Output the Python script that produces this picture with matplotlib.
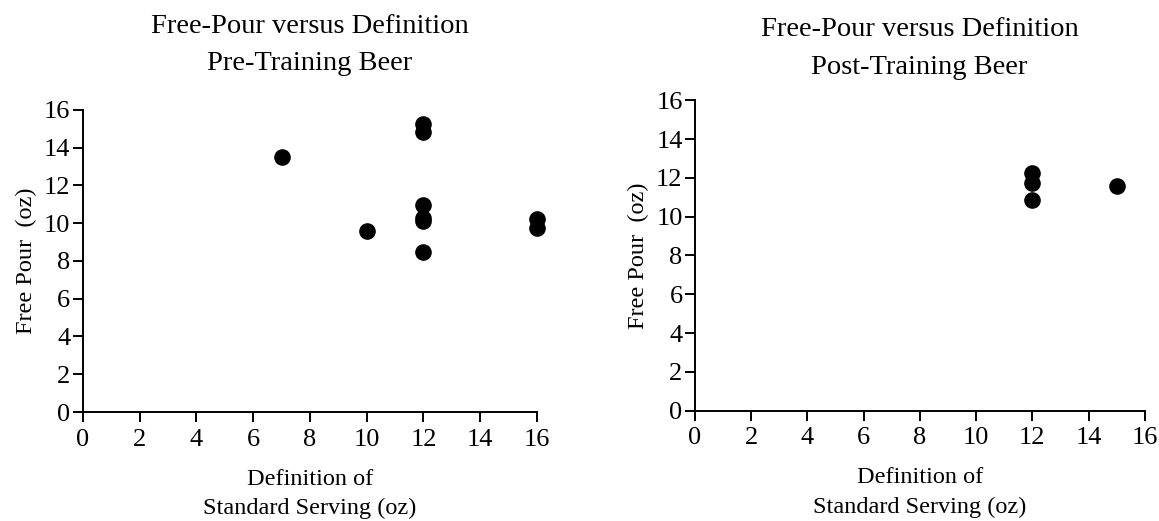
import matplotlib
matplotlib.use("Agg")
import matplotlib.pyplot as plt

plt.rcParams['font.family'] = ['Liberation Serif', 'DejaVu Serif']

# pre-training beer
pre_x = [7, 10, 12, 12, 12, 12, 12, 12, 16, 16]
pre_y = [13.5, 9.6, 15.25, 14.85, 10.97, 10.27, 10.09, 8.47, 10.23, 9.72]

# post-training beer
post_x = [12, 12, 12, 15]
post_y = [12.27, 11.74, 10.88, 11.6]

x_ticks_pre = [0, 2, 4, 6, 8, 10, 12, 14, 16]
x_ticks_post = [0, 2, 4, 6, 8, 10, 12, 14, 16]
y_ticks = [0, 2, 4, 6, 8, 10, 12, 14, 16]

fig = plt.figure(figsize=(11.59, 5.21), dpi=100)
ax1 = fig.add_axes([0.0716, 0.2092, 0.3917, 0.580])
ax2 = fig.add_axes([0.5997, 0.2117, 0.3880, 0.596])


def style(ax, xt):
    for s in ['top', 'right']:
        ax.spines[s].set_visible(False)
    for s in ['left', 'bottom']:
        ax.spines[s].set_linewidth(1.4)
        ax.spines[s].set_color('black')
    ax.set_xlim(0, 16)
    ax.set_ylim(0, 16)
    ax.set_xticks(xt)
    ax.set_yticks(y_ticks)
    ax.tick_params(direction='out', length=7.5, width=1.4, labelsize=19)
    ax.tick_params(axis='x', pad=4.5)
    ax.tick_params(axis='y', pad=1.5)
    ax.set_xlabel('Definition of\nStandard Serving (oz)', fontsize=17.5, labelpad=13, linespacing=1.5)
    ax.set_ylabel('Free Pour  (oz)', fontsize=17.5, labelpad=5)


ax1.scatter(pre_x, pre_y, s=120, color='black', zorder=3, clip_on=False)
ax2.scatter(post_x, post_y, s=120, color='black', zorder=3, clip_on=False)
style(ax1, x_ticks_pre)
style(ax2, x_ticks_post)

fig.text(0.2675, 0.914, 'Free-Pour versus Definition\nPre-Training Beer', ha='center', va='center',
         fontsize=20.5, linespacing=1.65)
fig.text(0.7934, 0.907, 'Free-Pour versus Definition\nPost-Training Beer', ha='center', va='center',
         fontsize=20.5, linespacing=1.65)

fig.savefig('out.png', dpi=100)
